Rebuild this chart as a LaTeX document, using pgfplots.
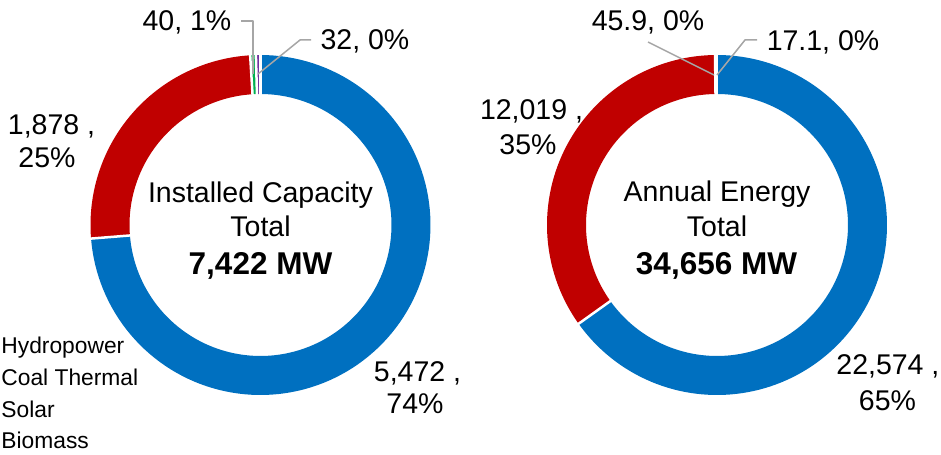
\documentclass[border=0pt]{standalone}
\usepackage{fontspec}
\setmainfont{Liberation Sans}
\usepackage{pgfplots}
\pgfplotsset{compat=1.18}
\definecolor{hydro}{HTML}{0070C0}
\definecolor{coal}{HTML}{C00000}
\definecolor{solar}{HTML}{00B050}
\definecolor{biomass}{HTML}{7030A0}
\definecolor{leader}{HTML}{A6A6A6}
\newcommand{\lbl}{\fontsize{14.25bp}{17bp}\selectfont}
\newcommand{\tot}{\fontsize{15.75bp}{19bp}\selectfont\bfseries}
\newcommand{\leg}{\fontsize{11.4bp}{14bp}\selectfont}
\begin{document}
\begin{tikzpicture}
% data (MW)
\def\hydL{5472}\def\coalL{1878}\def\solL{40}\def\bioL{32}\def\totL{7422}
\def\hydR{22574}\def\coalR{12019}\def\solR{45.9}\def\bioR{17.1}\def\totR{34656}
\def\cxL{260.5}\def\cxR{717}\def\cy{230}\def\rmid{150.5}
\pgfkeys{/pgf/fpu=true,/pgf/fpu/output format=fixed}
\pgfmathsetmacro\LA{360*(\hydL/\totL)}
\pgfmathsetmacro\LB{360*((\hydL+\coalL)/\totL)}
\pgfmathsetmacro\LC{360*((\hydL+\coalL+\solL)/\totL)}
\pgfmathsetmacro\RA{360*(\hydR/\totR)}
\pgfmathsetmacro\RB{360*((\hydR+\coalR)/\totR)}
\pgfmathsetmacro\RC{360*((\hydR+\coalR+\solR)/\totR)}
\pgfkeys{/pgf/fpu=false}
\begin{axis}[scale only axis, width=470.5bp, height=227.5bp,
  xmin=0, xmax=941, ymin=0, ymax=455, hide axis, clip=false,
  samples=120, no markers, every axis plot/.append style={line join=bevel}]
% left donut
\addplot[hydro, line width=19.5bp, domain=0:\LA] ({\cxL+\rmid*sin(x)},{\cy+\rmid*cos(x)});
\addplot[coal, line width=19.5bp, domain=\LA:\LB] ({\cxL+\rmid*sin(x)},{\cy+\rmid*cos(x)});
\addplot[solar, line width=19.5bp, domain=\LB:\LC, samples=2] ({\cxL+\rmid*sin(x)},{\cy+\rmid*cos(x)});
\addplot[biomass, line width=19.5bp, domain=\LC:360, samples=2] ({\cxL+\rmid*sin(x)},{\cy+\rmid*cos(x)});
% right donut
\addplot[hydro, line width=19.5bp, domain=0:\RA] ({\cxR+\rmid*sin(x)},{\cy+\rmid*cos(x)});
\addplot[coal, line width=19.5bp, domain=\RA:\RB] ({\cxR+\rmid*sin(x)},{\cy+\rmid*cos(x)});
\addplot[solar, line width=19.5bp, domain=\RB:\RC, samples=2] ({\cxR+\rmid*sin(x)},{\cy+\rmid*cos(x)});
\addplot[biomass, line width=19.5bp, domain=\RC:360, samples=2] ({\cxR+\rmid*sin(x)},{\cy+\rmid*cos(x)});
% slice borders
\foreach \a in {0,\LA,\LB,\LC}{
  \addplot[white, line width=1.25bp, domain=125:176, samples=2] ({\cxL+x*sin(\a)},{\cy+x*cos(\a)});
}
\foreach \a in {0,\RA,\RB,\RC}{
  \addplot[white, line width=1.25bp, domain=125:176, samples=2] ({\cxR+x*sin(\a)},{\cy+x*cos(\a)});
}
% leader lines
\addplot[leader, line width=0.75bp] coordinates {(241,434) (253,434) (253,381)};
\addplot[leader, line width=0.75bp] coordinates {(311,415) (300,415) (258,381)};
\addplot[leader, line width=0.75bp] coordinates {(648,413) (714,380)};
\addplot[leader, line width=0.75bp] coordinates {(757,415) (745,415) (717,380)};
% data labels
\node[anchor=base, inner sep=0, font=\lbl] at (axis cs:187,424) {40, 1\%};
\node[anchor=base, inner sep=0, font=\lbl] at (axis cs:365,405) {32, 0\%};
\node[anchor=base, inner sep=0, font=\lbl] at (axis cs:51.5,320) {1,878 ,};
\node[anchor=base, inner sep=0, font=\lbl] at (axis cs:47,287) {25\%};
\node[anchor=base, inner sep=0, font=\lbl] at (axis cs:417.5,73) {5,472 ,};
\node[anchor=base, inner sep=0, font=\lbl] at (axis cs:415,42) {74\%};
\node[anchor=base, inner sep=0, font=\lbl] at (axis cs:648,424) {45.9, 0\%};
\node[anchor=base, inner sep=0, font=\lbl] at (axis cs:823,404) {17.1, 0\%};
\node[anchor=base, inner sep=0, font=\lbl] at (axis cs:531.5,335) {12,019 ,};
\node[anchor=base, inner sep=0, font=\lbl] at (axis cs:528,300) {35\%};
\node[anchor=base west, inner sep=0, font=\lbl] at (axis cs:836,80) {22,574 ,};
\node[anchor=base, inner sep=0, font=\lbl] at (axis cs:887.5,45) {65\%};
% centre texts
\node[anchor=base, inner sep=0, font=\lbl] at (axis cs:260.5,252) {Installed Capacity};
\node[anchor=base, inner sep=0, font=\lbl] at (axis cs:260.5,218) {Total};
\node[anchor=base, inner sep=0, font=\tot] at (axis cs:260.5,180) {7,422 MW};
\node[anchor=base, inner sep=0, font=\lbl] at (axis cs:717,253) {Annual Energy};
\node[anchor=base, inner sep=0, font=\lbl] at (axis cs:717,218) {Total};
\node[anchor=base, inner sep=0, font=\tot] at (axis cs:716.5,180) {34,656 MW};
% legend
\node[anchor=base west, inner sep=0, font=\leg] at (axis cs:1,101) {Hydropower};
\node[anchor=base west, inner sep=0, font=\leg] at (axis cs:1,69) {Coal Thermal};
\node[anchor=base west, inner sep=0, font=\leg] at (axis cs:1,38) {Solar};
\node[anchor=base west, inner sep=0, font=\leg] at (axis cs:1,7) {Biomass};
\end{axis}
\pgfresetboundingbox
\path (0,0) rectangle (470.5bp,227.5bp);
\end{tikzpicture}
\end{document}
